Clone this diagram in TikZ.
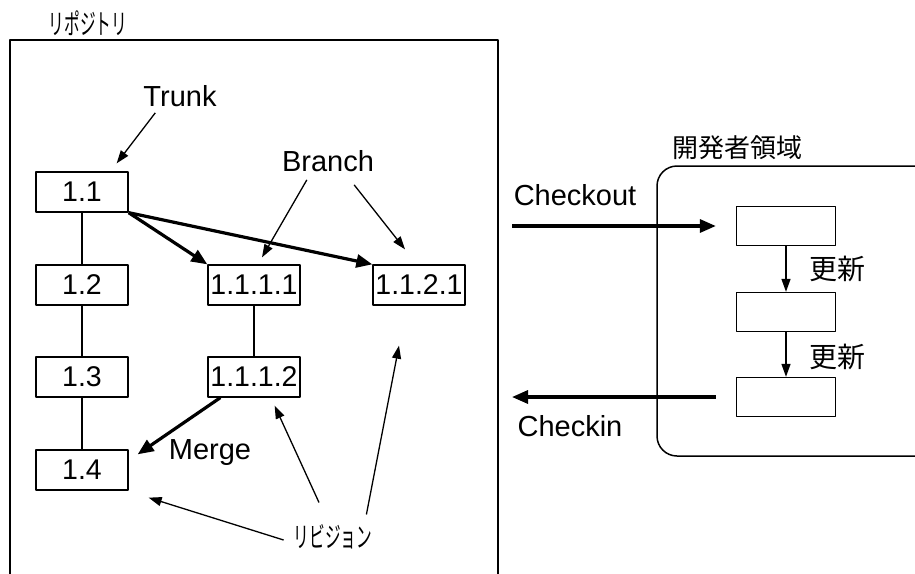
\documentclass[tikz,border=0pt]{standalone}
\usepackage{fontspec}
\setmainfont{Liberation Sans}
\newfontfamily\jpfont{Noto Sans CJK JP}
\usetikzlibrary{arrows.meta,calc}

\tikzset{
  rev/.style={draw, line width=1.3pt, minimum width=92pt, minimum height=40pt,
    inner sep=0pt, font=\fontsize{28.5}{30}\selectfont},
  work/.style={draw, line width=1.3pt, minimum width=99pt, minimum height=39pt, inner sep=0pt},
  lbl/.style={font=\fontsize{29}{30}\selectfont, inner sep=0pt},
  jlbl/.style={font=\jpfont\fontsize{28}{30}\selectfont, inner sep=0pt},
  thin/.style={line width=1.3pt, -{Triangle[length=13pt,width=9pt]}},
  thick/.style={line width=3.2pt, -{Triangle[length=16pt,width=13pt]}},
}
\newcommand{\narrow}[1]{\scalebox{0.56}[1]{#1}}

\begin{document}
\begin{tikzpicture}[x=1pt, y=-1pt, line join=round]
  \useasboundingbox (0,0) rectangle (915,573);
  \clip (0,0) rectangle (915,573);

  % repository frame
  \draw[line width=1.5pt] (10,580) -- (10,40) -- (498,40) -- (498,580);
  \node[jlbl] (repo) at (88,23) {\narrow{リポジトリ}};

  % revisions
  \node[rev] (r11) at (82,192) {1.1};
  \node[rev] (r12) at (82,285) {1.2};
  \node[rev] (r13) at (82,377) {1.3};
  \node[rev] (r14) at (82,470) {1.4};
  \node[rev] (r1111) at (254,285) {1.1.1.1};
  \node[rev] (r1112) at (254,377) {1.1.1.2};
  \node[rev] (r1121) at (419,285) {1.1.2.1};

  \draw[line width=1.3pt] (r11) -- (r12) -- (r13) -- (r14);
  \draw[line width=1.3pt] (r1111) -- (r1112);

  % branches and merge
  \draw[thick] (r11.south east) -- (r1111.north west);
  \draw[thick] (r11.south east) -- (r1121.north west);
  \draw[thick] ($(r1112.south west)+(13,0)$) -- ($(r14.north east)+(9,5)$);

  % labels
  \node[lbl] (trunk) at (180,96) {Trunk};
  \node[lbl] (branch) at (328,161) {Branch};
  \node[lbl] (merge) at (210,453) {Merge};
  \node[jlbl] (revs) at (333,537) {\narrow{リビジョン}};

  \draw[thin] ($(trunk.south west)+(12,6)$) -- ($(r11.north east)+(-12,-8)$);
  \draw[thin] ($(branch.south west)+(25,8)$) -- ($(r1111.north)+(8,-7)$);
  \draw[thin] ($(branch.south east)+(-20,13)$) -- ($(r1121.north)+(-14,-15)$);
  \draw[thin] ($(revs.west)+(-10,3)$) -- ($(r14.south east)+(20,7)$);
  \draw[thin] ($(revs.north)+(-14,-22)$) -- ($(r1112.south east)+(-26,8)$);
  \draw[thin] ($(revs.north east)+(-6,-10)$) -- ($(r1121.south)+(-20,40)$);

  % developer work area
  \draw[line width=1.5pt, rounded corners=20pt] (657,166) rectangle (935,456);
  \node[jlbl, font=\jpfont\fontsize{26}{28}\selectfont] (dev) at (737,148) {開発者領域};
  \node[work] (w1) at (786,226) {};
  \node[work] (w2) at (786,312) {};
  \node[work] (w3) at (786,397) {};
  \draw[thin] (w1) -- (w2) node[midway, right=23pt, jlbl] (up1) {更新};
  \draw[thin] (w2) -- (w3) node[midway, right=23pt, jlbl, yshift=-2pt] (up2) {更新};

  \coordinate (out) at (512,226);
  \coordinate (in) at (512,397);
  \draw[thick] (out) -- ($(w1.west)+(-20,0)$);
  \draw[thick] ($(w3.west)+(-20,0)$) -- (in);
  \node[lbl] (checkout) at (575,195) {Checkout};
  \node[lbl] (checkin) at (570,426) {Checkin};
\end{tikzpicture}
\end{document}
